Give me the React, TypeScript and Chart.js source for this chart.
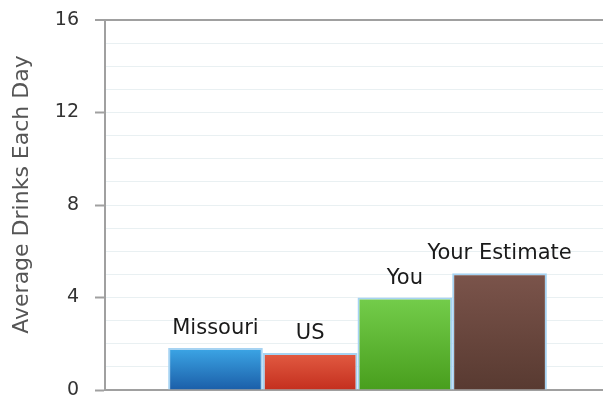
import React, { useEffect, useRef } from "react";
import { Chart, registerables } from "chart.js";

Chart.register(...registerables);

const seriesNames = ["Missouri", "US", "You", "Your Estimate"];
const seriesValues = [1.82, 1.6, 4.0, 5.05];
const topColors = ["#3ca6e6", "#e25b42", "#74cd4b", "#7b544b"];
const bottomColors = ["#1b5ea8", "#c42f1e", "#489e1d", "#583a31"];
const yTickLabels = [0, 4, 8, 12, 16];
const yTitle = "Average Drinks Each Day";

const FONT = "'DejaVu Sans', Verdana, sans-serif";

const barLabelPlugin = {
  id: "barLabels",
  afterDatasetsDraw(chart: any) {
    const ctx = chart.ctx;
    ctx.save();
    ctx.font = `21px ${FONT}`;
    ctx.fillStyle = "#1a1a1a";
    ctx.textAlign = "center";
    ctx.textBaseline = "alphabetic";
    chart.data.datasets.forEach((ds: any, i: number) => {
      const meta = chart.getDatasetMeta(i);
      const el = meta.data[0];
      if (!el) return;
      ctx.fillText(ds.label, el.x, el.y - 14);
    });
    ctx.restore();
  },
};

export default function App() {
  const ref = useRef<HTMLCanvasElement>(null);
  useEffect(() => {
    if (!ref.current) return;
    const datasets = seriesNames.map((name, i) => ({
      label: name,
      data: [seriesValues[i]],
      backgroundColor: (c: any) => {
        const chart = c.chart;
        const area = chart.chartArea;
        const ys = chart.scales?.y;
        if (!area || !ys) return topColors[i];
        const top = ys.getPixelForValue(seriesValues[i]);
        const bot = ys.getPixelForValue(0);
        const g = chart.ctx.createLinearGradient(0, top, 0, bot);
        g.addColorStop(0, topColors[i]);
        g.addColorStop(1, bottomColors[i]);
        return g;
      },
      borderColor: "#a6d3f2",
      borderWidth: 2,
      borderSkipped: "bottom",
      barPercentage: 1,
      categoryPercentage: 0.75,
    }));
    const chart = new Chart(ref.current, {
      type: "bar",
      data: { labels: [""], datasets },
      plugins: [barLabelPlugin],
      options: {
        responsive: false,
        animation: false,
        layout: { autoPadding: false, padding: { top: 20, bottom: 5, left: 0, right: 2 } },
        plugins: { legend: { display: false }, tooltip: { enabled: false } },
        scales: {
          x: {
            grid: { display: false },
            ticks: { display: false },
            border: { display: true, color: "#a0a0a0", width: 2 },
            afterFit: (s: any) => {
              s.height = 0;
              s.paddingLeft = 0;
              s.paddingRight = 0;
              s.paddingTop = 0;
              s.paddingBottom = 0;
            },
          },
          y: {
            min: 0,
            max: 16,
            afterFit: (s: any) => {
              s.width = 105;
              s.paddingTop = 0;
              s.paddingBottom = 0;
            },
            ticks: {
              stepSize: 1,
              autoSkip: false,
              padding: 16,
              color: "#333",
              font: { family: FONT, size: 19 },
              callback: (v: any) => (yTickLabels.includes(Number(v)) ? String(v) : ""),
            },
            grid: {
              tickLength: 10,
              color: (c: any) => {
                const v = c.tick?.value;
                if (v === 16) return "#a0a0a0";
                if (v === 0) return "rgba(0,0,0,0)";
                return "#e9f0f2";
              },
              lineWidth: (c: any) => (c.tick?.value === 16 ? 2 : 1),
              tickColor: (c: any) =>
                yTickLabels.includes(c.tick?.value) ? "#a0a0a0" : "rgba(0,0,0,0)",
              tickWidth: 2,
            },
            border: { display: true, color: "#a0a0a0", width: 2 },
            title: {
              display: true,
              text: "   " + yTitle,
              color: "#555",
              font: { family: FONT, size: 22 },
              padding: { top: 9, bottom: 0 },
            },
          },
        },
      },
    });
    return () => chart.destroy();
  }, []);
  return (
    <div
      style={{
        position: "fixed",
        left: 0,
        top: 0,
        width: 603,
        height: 395,
        overflow: "hidden",
        background: "#fff",
      }}
    >
      <canvas ref={ref} width={612} height={395} style={{ display: "block" }} />
    </div>
  );
}
